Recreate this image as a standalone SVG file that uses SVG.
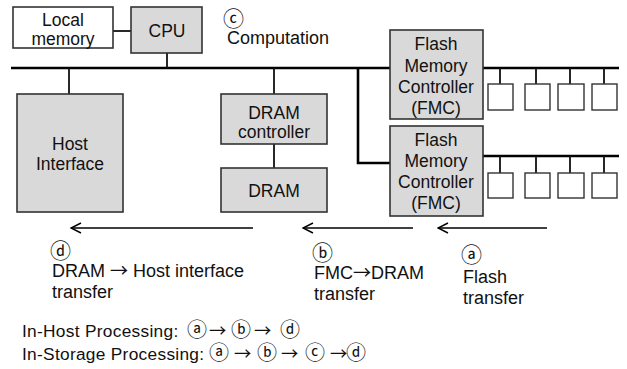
<svg xmlns="http://www.w3.org/2000/svg" width="627" height="369" viewBox="0 0 627 369">
<defs>
<style>
.box{fill:#d9d9d9;stroke:#333;stroke-width:1.6}
.wbox{fill:#fff;stroke:#333;stroke-width:1.6}
.chip{fill:#fff;stroke:#333;stroke-width:1.4}
.bus{stroke:#000;stroke-width:2.6;fill:none}
.con{stroke:#111;stroke-width:1.8;fill:none}
.arr{stroke:#000;stroke-width:1.4;fill:none}
text{font-family:"Liberation Sans","Noto Sans CJK KR",sans-serif;font-size:17.5px;fill:#111}
.k{font-family:"Noto Sans CJK KR","DejaVu Sans",sans-serif}
.o{font-family:"Noto Sans CJK KR","DejaVu Sans",sans-serif;font-size:21px}
.ol{font-family:"Noto Sans CJK KR","DejaVu Sans",sans-serif;font-size:20px;letter-spacing:0}
.c{text-anchor:middle}
.l{font-size:18px}
.s{font-size:17.3px;letter-spacing:0.3px}
</style>
<marker id="ah" viewBox="0 0 12 12" refX="11" refY="6" markerWidth="12" markerHeight="12" markerUnits="userSpaceOnUse" orient="auto">
<path d="M1,1 L11,6 L1,11" fill="none" stroke="#000" stroke-width="1.4"/>
</marker>
</defs>
<g id="connectors">
<path class="bus" d="M11,68 H390"/>
<path class="bus" d="M358,68 V163 H390"/>
<path class="bus" d="M483,68 H619"/>
<path class="bus" d="M483,156 H619"/>
<path class="con" d="M113,31 H131"/>
<path class="con" d="M167,53 V68"/>
<path class="con" d="M69,68 V94"/>
<path class="con" d="M274,68 V94"/>
<path class="con" d="M274,144 V168"/>
<path class="con" d="M500,68 V84 M536,68 V84 M570,68 V84 M604,68 V84"/>
<path class="con" d="M500,156 V173 M536,156 V173 M570,156 V173 M604,156 V173"/>
<path class="arr" d="M253,228 H71" marker-end="url(#ah)"/>
<path class="arr" d="M413,228 H303" marker-end="url(#ah)"/>
<path class="arr" d="M547,228 H438" marker-end="url(#ah)"/>
</g>
<g id="local-memory">
<rect class="wbox" x="13" y="7" width="100" height="41"/>
<text class="c" x="63" y="26">Local</text>
<text class="c" x="63" y="45">memory</text>
</g>
<g id="cpu">
<rect class="box" x="131" y="7" width="71" height="46"/>
<text class="c" x="167" y="37">CPU</text>
</g>
<g id="computation">
<text class="o" x="223" y="26">ⓒ</text>
<text class="l" x="227" y="44">Computation</text>
</g>
<g id="host-interface">
<rect class="box" x="17" y="94" width="106" height="118"/>
<text class="c" x="70" y="150">Host</text>
<text class="c" x="70" y="170">Interface</text>
</g>
<g id="dram-controller">
<rect class="box" x="221" y="94" width="106" height="50"/>
<text class="c" x="274" y="119">DRAM</text>
<text class="c" x="274" y="138">controller</text>
</g>
<g id="dram">
<rect class="box" x="221" y="168" width="106" height="44"/>
<text class="c" x="274" y="197">DRAM</text>
</g>
<g id="fmc1">
<rect class="box" x="390" y="30" width="93" height="89"/>
<text class="c" x="436" y="50">Flash</text>
<text class="c" x="436" y="72">Memory</text>
<text class="c" x="436" y="93">Controller</text>
<text class="c" x="436" y="114">(FMC)</text>
</g>
<g id="fmc2">
<rect class="box" x="390" y="126" width="93" height="90"/>
<text class="c" x="436" y="146">Flash</text>
<text class="c" x="436" y="167">Memory</text>
<text class="c" x="436" y="188">Controller</text>
<text class="c" x="436" y="209">(FMC)</text>
</g>
<g id="flash-chips-1">
<rect class="chip" x="488" y="84" width="25" height="26"/>
<rect class="chip" x="525" y="84" width="25" height="26"/>
<rect class="chip" x="558" y="84" width="26" height="26"/>
<rect class="chip" x="592" y="84" width="25" height="26"/>
</g>
<g id="flash-chips-2">
<rect class="chip" x="488" y="173" width="25" height="25"/>
<rect class="chip" x="525" y="173" width="25" height="25"/>
<rect class="chip" x="558" y="173" width="26" height="25"/>
<rect class="chip" x="592" y="173" width="25" height="25"/>
</g>
<g id="label-d">
<text class="o" x="50" y="258">ⓓ</text>
<text class="l" x="52" y="277">DRAM <tspan class="k">→</tspan> Host interface</text>
<text class="l" x="52" y="298">transfer</text>
</g>
<g id="label-b">
<text class="o" x="312" y="260">ⓑ</text>
<text class="l" x="314" y="279">FMC<tspan class="k">→</tspan>DRAM</text>
<text class="l" x="314" y="300">transfer</text>
</g>
<g id="label-a">
<text class="o" x="461" y="262">ⓐ</text>
<text class="l" x="463" y="283">Flash</text>
<text class="l" x="463" y="304">transfer</text>
</g>
<g id="legend">
<text class="s" x="22" y="337">In-Host Processing:<tspan class="ol" x="187">ⓐ</tspan><tspan class="k" x="209">→</tspan><tspan class="ol" x="231">ⓑ</tspan><tspan class="k" x="254">→</tspan><tspan class="ol" x="280">ⓓ</tspan></text>
<text class="s" x="22" y="360">In-Storage Processing:<tspan class="ol" x="209">ⓐ</tspan><tspan class="k" x="234">→</tspan><tspan class="ol" x="257">ⓑ</tspan><tspan class="k" x="281">→</tspan><tspan class="ol" x="305">ⓒ</tspan><tspan class="k" x="330">→</tspan><tspan class="ol" x="346">ⓓ</tspan></text>
</g>
</svg>
